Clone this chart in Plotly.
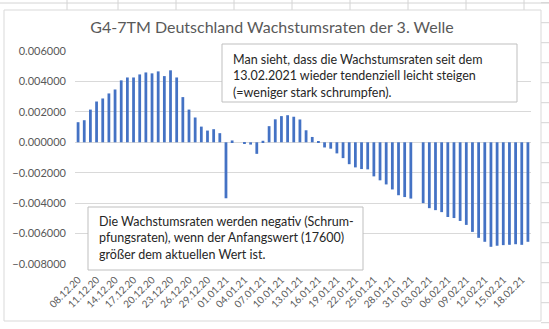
import pandas as pd
import plotly.graph_objects as go

dates = [d.strftime("%d.%m.%y") for d in pd.date_range("2020-12-08", "2021-02-19", freq="D")]
rates = [
    0.00132, 0.00145, 0.00215, 0.00268, 0.00288, 0.00321, 0.00347, 0.00407, 0.00426, 0.00426,
    0.00446, 0.00459, 0.00453, 0.00466, 0.00435, 0.00473, 0.00426, 0.00297, 0.00215, 0.00163,
    0.00103, 0.00077, 0.00086, 0.00060, -0.00368, 0.00012, 0.0, -0.00008, -0.00015, -0.00076,
    0.00010, 0.00106, 0.00151, 0.00172, 0.00178, 0.00168, 0.00150, 0.00079, 0.00035, 0.00008,
    -0.00034, -0.00042, -0.00073, -0.00104, -0.00144, -0.00165, -0.00176, -0.00178, -0.00224, -0.00250,
    -0.00277, -0.00310, -0.00348, -0.00360, -0.00370, None, -0.00400, -0.00433, -0.00446, -0.00459,
    -0.00491, -0.00498, -0.00517, -0.00543, -0.00589, -0.00628, -0.00654, -0.00687, -0.00680, -0.00676,
    -0.00674, -0.00670, -0.00674, -0.00654,
]
tick_labels = dates[::3]
y_ticks = [0.006, 0.004, 0.002, 0.0, -0.002, -0.004, -0.006, -0.008]

title = "G4-7TM Deutschland Wachstumsraten der 3. Welle"
note1 = "Man sieht, dass die Wachstumsraten seit dem<br>13.02.2021 wieder tendenziell leicht steigen<br>(=weniger stark schrumpfen)."
note2 = "Die Wachstumsraten werden negativ (Schrum-<br>pfungsraten), wenn der Anfangswert (17600)<br>größer dem aktuellen Wert ist."

W, H = 549, 329
ML, MR, MT, MB = 75, 18, 51, 65
PW, PH = W - ML - MR, H - MT - MB


def px(x):
    return (x - ML) / PW


def py(y):
    return (H - MB - y) / PH


FONT = "Lato"
GRAY = "#595959"
CELL = "#D4D4D4"

fig = go.Figure(go.Bar(x=dates, y=rates, marker_color="#4472C4", marker_line_width=0))

shapes = []
# spreadsheet cell lines around the chart
shapes.append(dict(type="line", xref="paper", yref="paper", x0=px(0), x1=px(549), y0=py(3), y1=py(3),
                   line=dict(color=CELL, width=1), layer="below"))
for cx in [67, 118, 176, 234, 292, 350, 408, 466, 524]:
    shapes.append(dict(type="line", xref="paper", yref="paper", x0=px(cx), x1=px(cx), y0=py(0), y1=py(10),
                       line=dict(color=CELL, width=1), layer="below"))
for k in range(17):
    ry = 2.7 + 20 * k
    shapes.append(dict(type="line", xref="paper", yref="paper", x0=px(541), x1=px(549), y0=py(ry), y1=py(ry),
                       line=dict(color=CELL, width=1), layer="below"))
shapes += [
    dict(type="rect", xref="paper", yref="paper", x0=px(4), x1=px(541), y0=py(321), y1=py(10),
         line=dict(color="#D9D9D9", width=1), fillcolor="white", layer="below"),
    dict(type="rect", xref="paper", yref="paper", x0=px(222), x1=px(517), y0=py(102), y1=py(44),
         line=dict(color="#BFBFBF", width=1), fillcolor="white", layer="above"),
    dict(type="rect", xref="paper", yref="paper", x0=px(88), x1=px(363), y0=py(270), y1=py(207),
         line=dict(color="#BFBFBF", width=1), fillcolor="white", layer="above"),
]

annotations = [
    dict(text=note1, xref="paper", yref="paper", x=px(231), y=py(50), xanchor="left", yanchor="top",
         align="left", showarrow=False, font=dict(family=FONT, size=12.5, color="#262626")),
    dict(text=note2, xref="paper", yref="paper", x=px(97), y=py(212), xanchor="left", yanchor="top",
         align="left", showarrow=False, font=dict(family=FONT, size=12.5, color="#262626")),
]

fig.update_layout(
    width=W, height=H,
    margin=dict(l=ML, r=MR, t=MT, b=MB),
    paper_bgcolor="white", plot_bgcolor="rgba(0,0,0,0)",
    title=dict(text=title, x=272 / W, xref="container", xanchor="center", y=1 - 27 / H, yanchor="middle",
               font=dict(family=FONT, size=16, color=GRAY)),
    xaxis=dict(type="category", tickmode="array", tickvals=tick_labels, ticktext=tick_labels,
               tickangle=-45, tickfont=dict(family=FONT, size=10, color=GRAY),
               showgrid=False, showline=False, ticks="", ticklabelstandoff=7),
    yaxis=dict(range=[-0.008, 0.006], tickvals=y_ticks, tickformat=".6f",
               tickfont=dict(family=FONT, size=11, color=GRAY), showgrid=True,
               gridcolor="#D9D9D9", gridwidth=1, zeroline=True, zerolinecolor="#D9D9D9",
               zerolinewidth=1, ticks="", ticklabelstandoff=8),
    bargap=0.55,
    showlegend=False,
    shapes=shapes,
    annotations=annotations,
    font=dict(family=FONT),
)

fig.write_html("out.html")
